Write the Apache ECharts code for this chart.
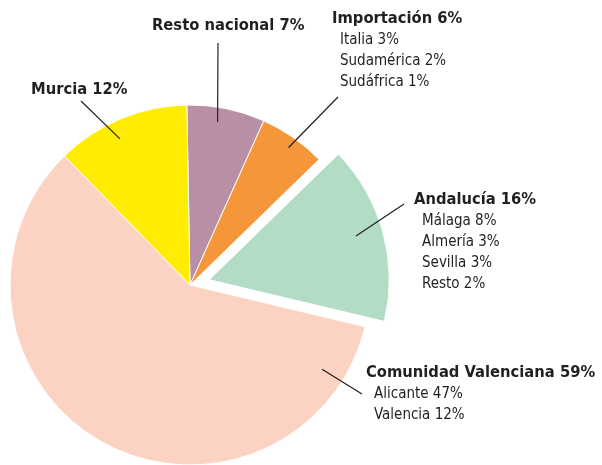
<!DOCTYPE html>
<html>
<head>
<meta charset="utf-8">
<script src="https://cdn.jsdelivr.net/npm/echarts@6/dist/echarts.min.js"></script>
<style>
  html, body { margin: 0; padding: 0; background: #fff; }
  #main { width: 602px; height: 465px; }
</style>
</head>
<body>
<div id="main"></div>
<script>
// origen de la producción, porcentaje
var regiones = ['Resto nacional', 'Importación', 'Andalucía', 'Comunidad Valenciana', 'Murcia'];
var porcentajes = [7, 6, 16, 59, 12];
var detalles = [
    [],
    ['Italia 3%', 'Sudamérica 2%', 'Sudáfrica 1%'],
    ['Málaga 8%', 'Almería 3%', 'Sevilla 3%', 'Resto 2%'],
    ['Alicante 47%', 'Valencia 12%'],
    []
];
var colores = ['#b88fa5', '#f6963a', '#b2dcc4', '#fcd3c2', '#ffec00'];
var destacado = 'Andalucía';

// maquetación
var centro = [190, 285];
var radio = 180;
var anguloInicio = 91;
var separacion = 20;
var posRotulo = [[152, 14], [332, 7], [414, 188], [366, 361], [31, 78]];
var finLinea = [[218, 43], [338, 97], [404, 204], [362, 394], [81, 101]];
// donde nace cada línea: [fracción del ángulo del sector, fracción del radio]
var anclaje = [[0.42, 0.92], [0.53, 0.94], [0.48, 0.85], [0.09, 0.87], [0.43, 0.9]];
var fuente = '"DejaVu Sans Condensed", "DejaVu Sans", sans-serif';
var tinta = '#231f20';

var total = porcentajes.reduce(function(a, b) { return a + b; }, 0);
var iDestacado = regiones.indexOf(destacado);

function angulo(i, frac) {
    var acum = 0;
    for (var k = 0; k < i; k++) acum += porcentajes[k];
    return (anguloInicio - (acum + porcentajes[i] * frac) / total * 360) * Math.PI / 180;
}

// el sector destacado se dibuja en su propia serie, desplazada hacia fuera
var angD = angulo(iDestacado, 0.5);
var centroDestacado = [centro[0] + separacion * Math.cos(angD), centro[1] - separacion * Math.sin(angD)];

function inicioLinea(i) {
    var c = i === iDestacado ? centroDestacado : centro;
    var ang = angulo(i, anclaje[i][0]);
    var r = radio * anclaje[i][1];
    return [c[0] + r * Math.cos(ang), c[1] - r * Math.sin(ang)];
}

function datosSerie(visible) {
    return regiones.map(function(n, i) {
        var ver = visible(i);
        return {
            name: n,
            value: porcentajes[i],
            itemStyle: ver ? { color: colores[i], borderColor: '#fff', borderWidth: 1 }
                           : { color: 'rgba(0,0,0,0)', borderWidth: 0 }
        };
    });
}

function sectores(c, visible) {
    return {
        type: 'pie',
        center: c,
        radius: [0, radio],
        startAngle: anguloInicio,
        clockwise: true,
        silent: true,
        emphasis: { disabled: true },
        label: { show: false },
        labelLine: { show: false },
        data: datosSerie(visible)
    };
}

// serie transparente encima, sólo para rótulos y líneas
var rotulos = {
    type: 'pie',
    z: 5,
    center: centro,
    radius: [0, radio],
    startAngle: anguloInicio,
    clockwise: true,
    silent: true,
    avoidLabelOverlap: false,
    emphasis: { disabled: true },
    label: {
        show: true,
        position: 'outside',
        overflow: 'none',
        color: tinta,
        formatter: function(p) {
            var s = '{t|' + p.name + ' ' + p.value + '%}';
            detalles[p.dataIndex].forEach(function(d) { s += '\n{s|' + d + '}'; });
            return s;
        },
        rich: {
            t: { fontWeight: 'bold', fontSize: 16.4, lineHeight: 23, color: tinta, fontFamily: fuente },
            s: { fontSize: 15, lineHeight: 21, color: tinta, fontFamily: fuente, padding: [0, 0, 0, 8] }
        }
    },
    labelLine: { show: true, lineStyle: { color: tinta, width: 1.2 } },
    labelLayout: function(params) {
        var i = params.dataIndex;
        return {
            x: posRotulo[i][0],
            y: posRotulo[i][1],
            align: 'left',
            verticalAlign: 'top',
            labelLinePoints: [inicioLinea(i), finLinea[i]]
        };
    },
    data: datosSerie(function() { return false; })
};

var myChart = echarts.init(document.getElementById('main'));
myChart.setOption({
    animation: false,
    backgroundColor: '#fff',
    textStyle: { fontFamily: fuente },
    series: [
        sectores(centro, function(i) { return i !== iDestacado; }),
        sectores(centroDestacado, function(i) { return i === iDestacado; }),
        rotulos
    ]
});
</script>
</body>
</html>
